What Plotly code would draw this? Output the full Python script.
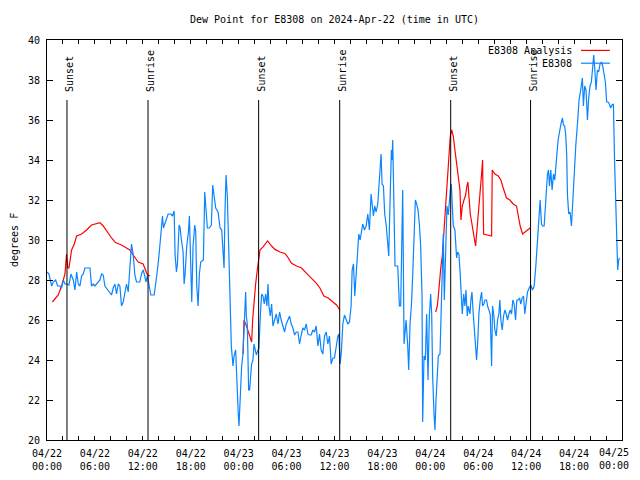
import plotly.graph_objects as go

# ---------------- data (hours since 2024-04-22 00:00 UTC) ----------------
obs_hours = [
    0.0, 0.25, 0.58, 0.79, 1.08, 1.33, 1.625, 1.83, 2.04, 2.25, 2.5, 2.75, 3.0, 3.29, 3.5, 3.71, 3.92,
    4.125, 4.33, 4.54, 4.75, 5.17, 5.375, 5.58, 5.79, 6.0, 6.21, 6.625, 6.83, 7.04, 7.25, 7.67, 7.875,
    8.08, 8.29, 8.5, 8.71, 8.92, 9.125, 9.33, 9.54, 9.75, 9.96, 10.17, 10.375, 10.58, 10.79, 11.0,
    11.21, 11.625, 11.83, 12.04, 12.25,
    12.375, 12.58, 12.79, 13.0, 13.42, 13.625, 13.83, 14.04, 14.25, 14.46, 14.58, 14.875, 15.17, 15.5,
    15.71, 15.92, 16.04, 16.21, 16.33, 16.54, 16.67, 16.83, 17.04, 17.17, 17.29, 17.5, 17.71, 17.83,
    18.0, 18.125, 18.29, 18.5, 18.625, 18.75, 18.92, 19.08, 19.25, 19.58, 19.75, 19.92, 20.08, 20.33,
    20.58, 20.75, 20.92, 21.125, 21.42, 21.67, 21.875, 22.04, 22.17, 22.29, 22.42, 22.58, 22.71,
    22.875, 23.0,
    23.08, 23.29, 23.42, 23.625, 23.79, 23.96, 24.04, 24.21, 24.375, 24.54, 24.75, 24.875, 24.96,
    25.08, 25.25, 25.375, 25.5, 25.625, 25.79, 25.92, 26.08, 26.21, 26.42, 26.54, 26.71, 26.875,
    27.04, 27.21, 27.375, 27.54, 27.67, 27.79, 27.96, 28.125, 28.29, 28.5, 28.71, 28.92, 29.125,
    29.33, 29.54, 29.75, 29.96, 30.17, 30.375, 30.58, 30.79, 31.0, 31.21, 31.42, 31.625, 31.83,
    32.04, 32.25, 32.46, 32.67, 32.875, 33.08, 33.29, 33.5, 33.71, 33.92, 34.125, 34.33, 34.54,
    34.75, 34.96, 35.17, 35.375, 35.58, 35.79, 36.0, 36.21, 36.42, 36.54, 36.71, 36.875, 37.04,
    37.25, 37.46, 37.67, 37.875, 38.08, 38.21, 38.375, 38.54, 38.71, 38.875, 39.04, 39.21, 39.375,
    39.54, 39.75, 39.96, 40.17, 40.375, 40.58, 40.71, 40.875, 41.04, 41.21, 41.42, 41.54, 41.71,
    41.83, 41.96, 42.125, 42.29, 42.46, 42.67, 42.79, 42.96, 43.125, 43.21, 43.29, 43.42, 43.58,
    43.92, 44.125, 44.29, 44.46, 44.54, 44.71, 44.83, 44.96, 45.17, 45.29, 45.46, 45.625, 45.79,
    46.0, 46.125, 46.29, 46.46, 46.625, 46.79, 46.96, 47.04, 47.21, 47.375, 47.54, 47.71,
    47.875, 48.04, 48.17, 48.29, 48.46, 48.58, 48.71, 48.875, 49.0, 49.21, 49.33, 49.5, 49.625,
    49.75, 49.83, 49.96, 50.08, 50.25, 50.375, 50.5, 50.625, 50.75, 50.875, 51.08, 51.29, 51.42,
    51.58, 51.71, 51.83, 52.0, 52.17, 52.33, 52.46, 52.625, 52.75, 52.96, 53.08, 53.21, 53.375,
    53.5, 53.67, 53.79, 53.92, 54.08, 54.25, 54.42, 54.54, 54.71, 54.83, 55.04, 55.17, 55.33, 55.5,
    55.67, 55.79, 55.96, 56.08, 56.25, 56.42, 56.58, 56.71, 56.83, 57.0, 57.17, 57.33, 57.5, 57.67,
    57.83, 58.0, 58.17, 58.33, 58.5, 58.67, 58.83, 59.0, 59.17, 59.33, 59.5, 59.67, 59.83, 60.0,
    60.17,
    60.375, 60.58, 60.79, 61.0, 61.21, 61.33, 61.5, 61.625, 61.75, 61.92, 62.04, 62.25, 62.375,
    62.54, 62.67, 62.79, 62.92, 63.08, 63.25, 63.42, 63.58, 63.71, 63.83, 64.0, 64.17, 64.33, 64.54,
    64.67, 64.83, 64.96, 65.08, 65.17, 65.33, 65.5, 65.67, 65.83, 66.0, 66.21, 66.42, 66.625, 66.83,
    67.04, 67.17, 67.33, 67.5, 67.67, 67.83, 68.0, 68.17, 68.33, 68.46, 68.58, 68.75, 68.92, 69.08,
    69.25, 69.42, 69.58, 69.75, 69.92, 70.08, 70.25, 70.42, 70.58, 70.75, 70.92, 71.08, 71.25,
    71.33, 71.46, 71.58, 71.71,
]
obs_dewpt = [
    28.4, 28.3, 27.7, 27.9, 28.0, 27.7, 27.7, 27.6, 28.0, 27.8, 27.8, 27.75, 28.3, 28.0, 27.5, 28.4, 27.8,
    27.7, 28.2, 28.3, 28.6, 28.6, 28.6, 27.7, 27.8, 27.7, 27.8, 28.0, 28.3, 28.25, 27.7, 27.5, 27.4,
    27.25, 27.6, 27.8, 27.3, 27.8, 27.7, 26.7, 26.9, 27.4, 27.8, 27.4, 28.8, 29.8, 29.3, 28.25,
    27.9, 27.9, 28.3, 28.5, 28.2,
    27.9, 28.2, 27.6, 27.25, 27.25, 27.8, 28.5, 29.3, 30.3, 31.2, 30.6, 30.9, 31.3, 31.3,
    31.2, 31.45, 29.25, 28.4, 28.8, 30.75, 30.6, 30.0, 29.4, 27.8, 28.3, 29.7, 30.4, 31.2,
    27.7, 26.9, 29.7, 30.75, 30.4, 27.7, 26.7, 28.3, 28.9, 29.0, 32.4, 31.5, 30.6, 30.6,
    30.75, 32.75, 32.1, 31.6, 31.4, 30.6, 30.5, 29.2, 28.6, 31.5, 33.25, 32.2, 30.3,
    28.3, 26.5,
    24.7, 23.7, 24.2, 24.5, 22.5, 21.2, 20.7, 22.5, 23.7, 24.3, 26.0, 27.4, 26.2,
    25.8, 22.5, 22.5, 23.2, 23.8, 24.0, 24.8, 24.5, 24.25, 24.5, 24.6, 26.2, 27.3,
    27.2, 26.8, 27.3, 26.7, 27.8, 26.7, 26.2, 26.8, 25.7, 26.0, 26.3, 25.8, 26.4,
    26.0, 25.7, 25.4, 25.8, 26.0, 26.2, 25.8, 25.6, 25.25, 25.4, 25.4, 24.8, 25.25,
    25.6, 25.5, 25.8, 25.3, 25.25, 25.25, 25.5, 25.4, 25.7, 24.7, 25.3, 24.5, 24.3,
    25.2, 25.4, 24.8, 25.2, 23.8, 24.1, 24.1, 24.8, 25.2, 25.3, 23.8, 24.5, 25.8,
    26.25, 26.0, 25.8, 25.9, 26.7, 28.5, 28.8, 27.2, 28.2, 29.7, 30.3, 30.0, 30.5,
    30.8, 30.5, 30.7, 31.3, 30.5, 32.3, 31.8, 31.2, 31.7, 31.4, 31.8, 32.5, 33.8,
    34.3, 32.8, 32.7, 31.3, 30.8, 29.8, 29.2, 32.0, 34.5, 34.0, 35.0, 32.2, 28.7,
    28.7, 26.7, 26.7, 31.0, 32.5, 24.8, 25.7, 26.0, 24.7, 23.5, 25.8, 26.7, 28.2,
    30.2, 32.0, 31.8, 31.5, 30.8, 29.7, 27.2, 20.9, 24.2, 24.0, 26.3, 23.0,
    26.2, 27.3, 26.3, 23.2, 21.3, 20.5, 22.0, 23.2, 24.2, 24.3, 26.2, 28.8, 30.3,
    27.0, 28.3, 29.7, 31.7, 31.25, 32.0, 32.5, 32.8, 31.7, 30.7, 30.5, 29.1, 29.4,
    29.3, 28.5, 27.3, 26.3, 27.3, 26.7, 27.5, 26.2, 26.7, 26.3, 27.0, 27.4, 26.3,
    25.5, 24.7, 24.0, 24.8, 26.3, 27.0, 27.4, 26.7, 26.8, 27.0, 27.0, 26.7, 26.5, 26.3,
    23.7, 26.7, 26.2, 25.5, 25.2, 26.0, 26.3, 27.0, 26.0, 25.5, 26.2, 26.5, 26.3, 26.0,
    26.3, 26.5, 26.3, 27.0, 26.8, 26.0, 27.0, 27.0, 27.1, 26.8, 27.1, 27.2, 26.3, 27.0,
    27.4,
    27.6, 27.75, 27.5, 27.7, 28.7, 29.5, 30.5, 31.7, 32.0, 30.8, 30.7, 30.7, 31.7,
    32.5, 33.3, 33.5, 32.7, 33.5, 32.5, 33.3, 33.0, 33.5, 34.2, 35.0, 35.5, 35.75, 36.1,
    35.75, 35.7, 35.2, 34.2, 32.25, 31.3, 31.4, 30.7, 32.0, 33.2, 34.7, 35.8, 37.0, 37.5,
    38.1, 36.7, 37.7, 37.5, 36.0, 37.1, 37.7, 37.9, 38.7, 39.25, 38.6, 37.5, 38.5, 38.4,
    38.8, 38.9, 38.7, 38.3, 37.9, 36.9, 36.9, 36.8, 36.6, 36.75, 36.8, 33.8, 31.8,
    30.2, 28.5, 29.0, 29.1,
]

# Analysis series (None marks gaps between the daily analysis runs)
ana_hours = [
    0.67, 1.42, 1.83, 2.25, 2.45, 2.6, 2.75, 3.08, 3.42, 3.71, 4.33, 4.96, 5.58, 6.21, 6.625, 7.04,
    7.67, 8.08, 8.58, 9.33, 9.96, 10.375, 10.79, 11.42, 12.04, 12.25, 12.58, 12.92,
    None,
    24.55, 24.67, 25.0, 25.21, 25.42, 25.625, 25.75, 25.92, 26.125, 26.33, 26.5, 26.67, 27.08,
    27.625, 28.125, 28.54, 29.17, 29.79, 30.21, 30.625, 31.25, 31.875, 32.5, 33.125, 33.75, 34.17,
    34.67, 35.21, 35.83, 36.25, 36.67,
    None,
    48.67, 48.875, 49.0, 49.21, 49.33, 49.5, 49.625, 49.75, 49.92, 50.08, 50.25, 50.375, 50.5,
    50.67, 50.875, 51.08, 51.29, 51.5, 51.71, 51.83, 52.0, 52.21, 52.42, 52.58, 52.71, 52.83,
    53.0, 53.17, 53.375, 53.54, 53.67, 53.79, 54.0, 54.21, 54.42, 54.54, 54.67, 55.04, 55.46,
    55.67, 55.75, 56.08, 56.5, 56.83, 57.125, 57.54, 57.96, 58.375, 58.79, 59.0, 59.25, 59.54,
    59.83, 60.17, 60.5,
]
ana_dewpt = [
    26.9, 27.25, 27.7, 28.3, 29.3, 28.6, 28.6, 29.5, 29.8, 30.2, 30.3, 30.5, 30.75, 30.8, 30.87, 30.7,
    30.3, 30.1, 29.87, 29.75, 29.6, 29.5, 29.25, 28.9, 28.8, 28.6, 28.25, 28.2,
    None,
    24.3, 26.0, 25.67, 25.4, 25.1, 24.9, 26.0, 27.0, 27.8, 28.5, 29.0, 29.5, 29.67,
    29.95, 29.7, 29.53, 29.4, 29.33, 29.1, 28.83, 28.7, 28.6, 28.33, 28.1, 27.83, 27.6,
    27.2, 27.1, 26.9, 26.75, 26.5,
    None,
    26.4, 26.7, 27.2, 28.3, 28.7, 29.2, 30.0, 30.7, 31.7, 32.7, 33.7, 34.5, 35.2,
    35.5, 35.2, 34.5, 33.8, 33.2, 32.5, 31.0, 31.7, 32.0, 32.25, 32.7, 32.9, 32.2,
    31.3, 30.9, 30.5, 30.0, 29.7, 30.2, 31.2, 32.3, 33.3, 34.0, 30.3, 30.25, 30.2,
    30.2, 33.5, 33.3, 33.2, 33.0, 32.6, 32.1, 32.0, 31.8, 31.7, 31.2, 30.7, 30.3,
    30.4, 30.5, 30.6,
]

sunset_hours = [2.5, 26.5, 50.55]
sunrise_hours = [12.65, 36.65, 60.55]

x_tick_hours = list(range(0, 73, 2))
x_major_labels = {
    0: "04/22<br>00:00", 6: "04/22<br>06:00", 12: "04/22<br>12:00", 18: "04/22<br>18:00",
    24: "04/23<br>00:00", 30: "04/23<br>06:00", 36: "04/23<br>12:00", 42: "04/23<br>18:00",
    48: "04/24<br>00:00", 54: "04/24<br>06:00", 60: "04/24<br>12:00", 66: "04/24<br>18:00",
    72: "04/25<br>00:00",
}
LAST_TICK = 72  # drawn as an annotation so it is not clipped at the right edge
y_ticks = list(range(20, 41, 2))

series_names = ["E8308 Analysis", "E8308"]
series_colors = ["#ff0000", "#0a84ff"]

FONT = "DejaVu Sans Mono"
FS = 10
# the page body adds an 8 px offset on every side; the figure is sized so the page
# does not scroll, and margins place the plot box at x 47..622, y 39.5..440 in the window
PAGE_OFF = 8
FIG_W, FIG_H = 640 - PAGE_OFF, 480 - 2 * PAGE_OFF

fig = go.Figure()
fig.add_trace(go.Scatter(x=ana_hours, y=ana_dewpt, mode="lines", name=series_names[0],
                         line=dict(color=series_colors[0], width=1.2), connectgaps=False,
                         showlegend=False))
fig.add_trace(go.Scatter(x=obs_hours, y=obs_dewpt, mode="lines", name=series_names[1],
                         line=dict(color=series_colors[1], width=1.2), showlegend=False))

# event lines with rotated labels
for hrs, label in [(sunset_hours, "Sunset"), (sunrise_hours, "Sunrise")]:
    for h in hrs:
        fig.add_shape(type="line", x0=h, x1=h, y0=20, y1=37.0, xref="x", yref="y",
                      line=dict(color="black", width=1))
        fig.add_annotation(x=h, y=37.0, xref="x", yref="y", text=label, textangle=-90,
                           showarrow=False, xanchor="center", yanchor="bottom", yshift=6,
                           xshift=2, font=dict(family=FONT, size=FS, color="black"))

# legend drawn gnuplot-style (text then sample line), top right
leg_y = [0.974, 0.942]
for i in range(2):
    fig.add_annotation(x=0.9165, y=leg_y[i], xref="paper", yref="paper", text=series_names[i],
                       showarrow=False, xanchor="right", yanchor="middle",
                       font=dict(family=FONT, size=FS, color="black"))
    fig.add_shape(type="line", x0=0.9287, x1=0.979, y0=leg_y[i], y1=leg_y[i],
                  xref="paper", yref="paper", line=dict(color=series_colors[i], width=1.2))

# y-axis title
fig.add_annotation(x=0, y=0.5, xref="paper", yref="paper", text="degrees F", textangle=-90,
                   showarrow=False, xanchor="center", yanchor="middle", xshift=-33,
                   font=dict(family=FONT, size=FS, color="black"))

# last x tick label (kept inside the window)
fig.add_annotation(x=LAST_TICK, y=0, xref="x", yref="paper", text=x_major_labels[LAST_TICK],
                   showarrow=False, xanchor="right", yanchor="top", xshift=9, yshift=-5,
                   font=dict(family=FONT, size=FS, color="black"))

fig.update_layout(
    width=FIG_W, height=FIG_H,
    margin=dict(l=47 - PAGE_OFF, r=640 - 622, t=40 - PAGE_OFF, b=FIG_H - (440 - PAGE_OFF),
                autoexpand=False),
    paper_bgcolor="white", plot_bgcolor="white",
    font=dict(family=FONT, size=FS, color="black"),
    title=dict(text="Dew Point for E8308 on 2024-Apr-22 (time in UTC)", x=0.5, xref="paper",
               y=1 - (19 - PAGE_OFF) / FIG_H, yref="container", yanchor="middle",
               automargin=False, font=dict(family=FONT, size=FS, color="black")),
    showlegend=False,
)
fig.update_xaxes(range=[0, 72], tickmode="array", tickvals=x_tick_hours,
                 ticktext=["" if h == LAST_TICK else x_major_labels.get(h, "") for h in x_tick_hours],
                 ticks="inside", ticklen=4, tickcolor="black", showline=True, linecolor="black",
                 linewidth=1, mirror="allticks", showgrid=False, zeroline=False,
                 automargin=False, ticklabelstandoff=4, tickfont=dict(family=FONT, size=FS))
fig.update_yaxes(range=[20, 40], tickmode="array", tickvals=y_ticks,
                 ticktext=[str(v) for v in y_ticks],
                 ticks="inside", ticklen=6, tickcolor="black", showline=True, linecolor="black",
                 linewidth=1, mirror="allticks", showgrid=False, zeroline=False,
                 automargin=False, ticklabelstandoff=4, tickfont=dict(family=FONT, size=FS))

fig.write_html("out.html")
